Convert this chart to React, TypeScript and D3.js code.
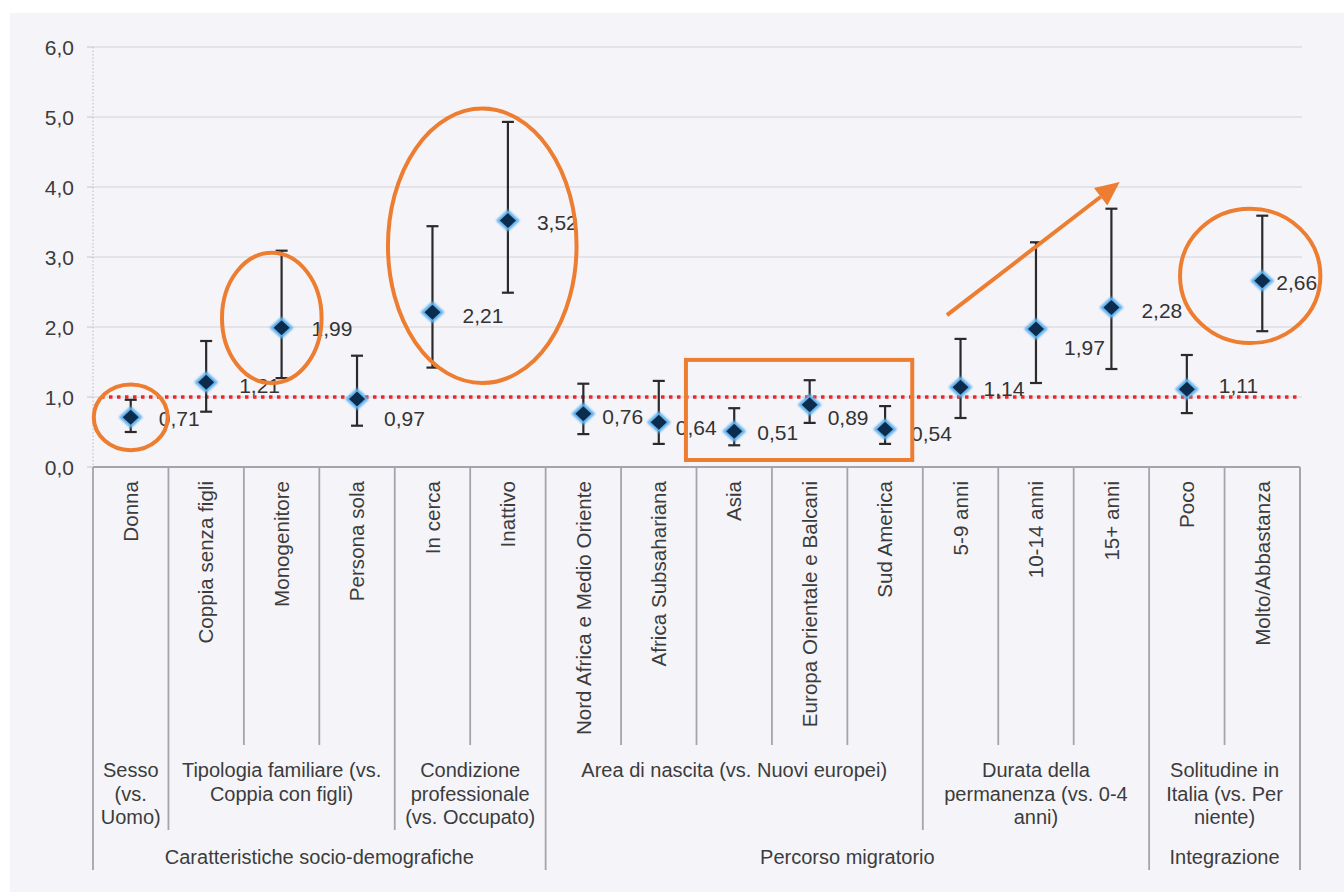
import React from "react";
import * as d3 from "d3";

// Odds ratios with 95% confidence intervals by characteristic
const categories = [
  "Donna",
  "Coppia senza figli",
  "Monogenitore",
  "Persona sola",
  "In cerca",
  "Inattivo",
  "Nord Africa e Medio Oriente",
  "Africa Subsahariana",
  "Asia",
  "Europa Orientale e Balcani",
  "Sud America",
  "5-9 anni",
  "10-14 anni",
  "15+ anni",
  "Poco",
  "Molto/Abbastanza",
];
const oddsRatios = [0.71, 1.21, 1.99, 0.97, 2.21, 3.52, 0.76, 0.64, 0.51, 0.89, 0.54, 1.14, 1.97, 2.28, 1.11, 2.66];
const ciLow = [0.5, 0.79, 1.27, 0.59, 1.42, 2.49, 0.47, 0.33, 0.31, 0.63, 0.33, 0.7, 1.2, 1.4, 0.77, 1.94];
const ciHigh = [0.96, 1.8, 3.09, 1.59, 3.44, 4.93, 1.19, 1.23, 0.84, 1.24, 0.87, 1.83, 3.21, 3.69, 1.6, 3.59];

// Variable groups (second row) and macro areas (third row), by number of categories
const subGroupLines = [
  ["Sesso", "(vs.", "Uomo)"],
  ["Tipologia familiare (vs.", "Coppia con figli)"],
  ["Condizione", "professionale", "(vs. Occupato)"],
  ["Area di nascita (vs. Nuovi europei)"],
  ["Durata della", "permanenza (vs. 0-4", "anni)"],
  ["Solitudine in", "Italia (vs. Per", "niente)"],
];
const subGroupSizes = [1, 3, 2, 5, 3, 2];
const areaLabels = ["Caratteristiche socio-demografiche", "Percorso migratorio", "Integrazione"];
const areaSizes = [6, 8, 2];

const yTicks = [0, 1, 2, 3, 4, 5, 6];
const referenceValue = 1;

// Label placement nudges (pixels) so value labels avoid the error bars
const labelDx = [28, 33, 30, 27, 30, 29, 19, 17, 23, 18, 26, 23, 28, 30, 32, 14];
const labelDy = [1, 3, 1, 19, 3, 2, 3, 5, 1, 13, 4, 1, 18, 3, -4, 2];

// Highlight shapes expressed in (category index, value) units
const highlightEllipses = [
  { cx: 0.5, cy: 0.71, rx: 0.49, ry: 0.47 },
  { cx: 2.37, cy: 2.13, rx: 0.66, ry: 0.93 },
  { cx: 5.16, cy: 3.16, rx: 1.25, ry: 1.96 },
  { cx: 15.34, cy: 2.73, rx: 0.93, ry: 0.96 },
];
const highlightRect = { x0: 7.86, x1: 10.86, y0: 0.1, y1: 1.53 };
const highlightArrow = { x0: 11.32, y0: 2.17, x1: 13.61, y1: 4.07 };

const W = 1344;
const H = 893;
const left = 93;
const right = 1300;
const top = 47;
const bottom = 467;

const FONT = "'Liberation Sans', Arial, sans-serif";
const TEXT = "#3c3c3c";
const ORANGE = "#ed7d31";

const itLocale = d3.formatLocale({ decimal: ",", thousands: ".", grouping: [3], currency: ["€", ""] });
const fmt2 = itLocale.format(".2f");
const fmt1 = itLocale.format(".1f");

export default function App() {
  const x = d3.scaleBand<string>().domain(categories).range([left, right]).padding(0);
  const xi = d3.scaleLinear().domain([0, categories.length]).range([left, right]);
  const y = d3.scaleLinear().domain([0, 6]).range([bottom, top]);
  const cx = (i: number) => (x(categories[i]) as number) + x.bandwidth() / 2;

  // boundaries between categories with depth level: 3 = within group, 2 = between variables, 1 = between areas
  const levelAt = new Map<number, number>();
  for (let i = 1; i < categories.length; i++) levelAt.set(i, 3);
  let acc = 0;
  subGroupSizes.forEach((s) => {
    acc += s;
    levelAt.set(acc, 2);
  });
  acc = 0;
  areaSizes.forEach((s) => {
    acc += s;
    levelAt.set(acc, 1);
  });
  levelAt.set(0, 1);
  const lineEnd: Record<number, number> = { 1: 870, 2: 830, 3: 745 };

  const subStarts: number[] = [];
  acc = 0;
  subGroupSizes.forEach((s) => {
    subStarts.push(acc);
    acc += s;
  });
  const areaStarts: number[] = [];
  acc = 0;
  areaSizes.forEach((s) => {
    areaStarts.push(acc);
    acc += s;
  });

  const diamond = (px: number, py: number, hw: number, hh: number) => {
    const p = d3.path();
    p.moveTo(px, py - hh);
    p.lineTo(px + hw, py);
    p.lineTo(px, py + hh);
    p.lineTo(px - hw, py);
    p.closePath();
    return p.toString();
  };

  // arrow geometry
  const ax0 = xi(highlightArrow.x0);
  const ay0 = y(highlightArrow.y0);
  const ax1 = xi(highlightArrow.x1);
  const ay1 = y(highlightArrow.y1);
  const ang = Math.atan2(ay1 - ay0, ax1 - ax0);
  const headLen = 24;
  const headHalf = 11;
  const bx = ax1 - headLen * Math.cos(ang);
  const by = ay1 - headLen * Math.sin(ang);
  const head = [
    [ax1, ay1],
    [bx + headHalf * Math.sin(ang), by - headHalf * Math.cos(ang)],
    [bx - headHalf * Math.sin(ang), by + headHalf * Math.cos(ang)],
  ];

  return (
    <svg
      width={W}
      height={H}
      style={{ position: "absolute", left: 0, top: 0, background: "#ffffff" }}
      fontFamily={FONT}
    >
      <defs>
        <filter id="glow" x="-50%" y="-50%" width="200%" height="200%">
          <feGaussianBlur stdDeviation="1.2" />
        </filter>
      </defs>
      <rect x={10} y={13} width={W - 10} height={879} fill="#f5f5f9" />

      {/* horizontal gridlines */}
      {yTicks
        .filter((t) => t > 0)
        .map((t) => (
          <line key={"g" + t} x1={left} x2={right + 2} y1={y(t)} y2={y(t)} stroke="#dcdce2" strokeWidth={1.5} />
        ))}

      {/* y axis */}
      <line x1={left} x2={left} y1={top} y2={bottom} stroke="#b8b8c0" strokeWidth={1} strokeDasharray="1.5 2" />
      {yTicks.map((t) => (
        <g key={"t" + t}>
          <line x1={left - 6} x2={left} y1={y(t)} y2={y(t)} stroke="#c4c4cc" strokeWidth={1} />
          <text x={74} y={y(t)} dy="0.36em" textAnchor="end" fontSize={21} fill={TEXT}>
            {fmt1(t)}
          </text>
        </g>
      ))}

      {/* category boundaries */}
      {Array.from(levelAt.entries()).map(([i, lvl]) => (
        <line
          key={"b" + i}
          x1={xi(i)}
          x2={xi(i)}
          y1={bottom}
          y2={lineEnd[lvl]}
          stroke="#a4a4aa"
          strokeWidth={1.8}
        />
      ))}
      <line x1={right} x2={right} y1={bottom} y2={870} stroke="#a4a4aa" strokeWidth={1.8} />
      <line x1={left} x2={right} y1={bottom} y2={bottom} stroke="#a4a4aa" strokeWidth={2} />

      {/* category labels */}
      {categories.map((c, i) => (
        <text
          key={"c" + i}
          transform={`translate(${cx(i)},${481}) rotate(-90)`}
          dy="0.35em"
          textAnchor="end"
          fontSize={20.6}
          fill={TEXT}
        >
          {c}
        </text>
      ))}

      {/* variable labels */}
      {subGroupLines.map((lines, g) => {
        const mid = (xi(subStarts[g]) + xi(subStarts[g] + subGroupSizes[g])) / 2;
        return (
          <text key={"s" + g} x={mid} y={777} textAnchor="middle" fontSize={20} fill={TEXT}>
            {lines.map((l, k) => (
              <tspan key={k} x={mid} dy={k === 0 ? 0 : 23.5}>
                {l}
              </tspan>
            ))}
          </text>
        );
      })}

      {/* area labels */}
      {areaLabels.map((l, g) => {
        const mid = (xi(areaStarts[g]) + xi(areaStarts[g] + areaSizes[g])) / 2;
        return (
          <text key={"a" + g} x={mid} y={864} textAnchor="middle" fontSize={20} fill={TEXT}>
            {l}
          </text>
        );
      })}

      {/* reference line at OR = 1 */}
      <line
        x1={left + 8}
        x2={right}
        y1={y(referenceValue)}
        y2={y(referenceValue)}
        stroke="#f0262b"
        strokeWidth={3.5}
        strokeDasharray="3.5 4.5"
      />

      {/* confidence intervals */}
      {categories.map((c, i) => (
        <g key={"e" + i} stroke="#2a2a2a" strokeWidth={2.2}>
          <line x1={cx(i)} x2={cx(i)} y1={y(ciLow[i])} y2={y(ciHigh[i])} />
          <line x1={cx(i) - 6} x2={cx(i) + 6} y1={y(ciLow[i])} y2={y(ciLow[i])} />
          <line x1={cx(i) - 6} x2={cx(i) + 6} y1={y(ciHigh[i])} y2={y(ciHigh[i])} />
        </g>
      ))}

      {/* point estimates */}
      {categories.map((c, i) => (
        <g key={"m" + i}>
          <path d={diamond(cx(i), y(oddsRatios[i]), 12, 11)} fill="#5fb0ec" filter="url(#glow)" />
          <path d={diamond(cx(i), y(oddsRatios[i]), 8, 7.5)} fill="#0c2c4e" />
        </g>
      ))}

      {/* value labels */}
      {categories.map((c, i) => (
        <text
          key={"v" + i}
          x={cx(i) + labelDx[i]}
          y={y(oddsRatios[i]) + labelDy[i]}
          dy="0.36em"
          fontSize={21}
          fill="#333333"
        >
          {fmt2(oddsRatios[i])}
        </text>
      ))}

      {/* highlights */}
      <g fill="none" stroke={ORANGE} strokeWidth={4}>
        {highlightEllipses.map((e, k) => (
          <ellipse
            key={"h" + k}
            cx={xi(e.cx)}
            cy={y(e.cy)}
            rx={xi(e.cx + e.rx) - xi(e.cx)}
            ry={y(0) - y(e.ry)}
          />
        ))}
        <rect
          x={xi(highlightRect.x0)}
          y={y(highlightRect.y1)}
          width={xi(highlightRect.x1) - xi(highlightRect.x0)}
          height={y(highlightRect.y0) - y(highlightRect.y1)}
        />
        <line x1={ax0} y1={ay0} x2={bx} y2={by} />
      </g>
      <polygon points={head.map((p) => p.join(",")).join(" ")} fill={ORANGE} />
    </svg>
  );
}
